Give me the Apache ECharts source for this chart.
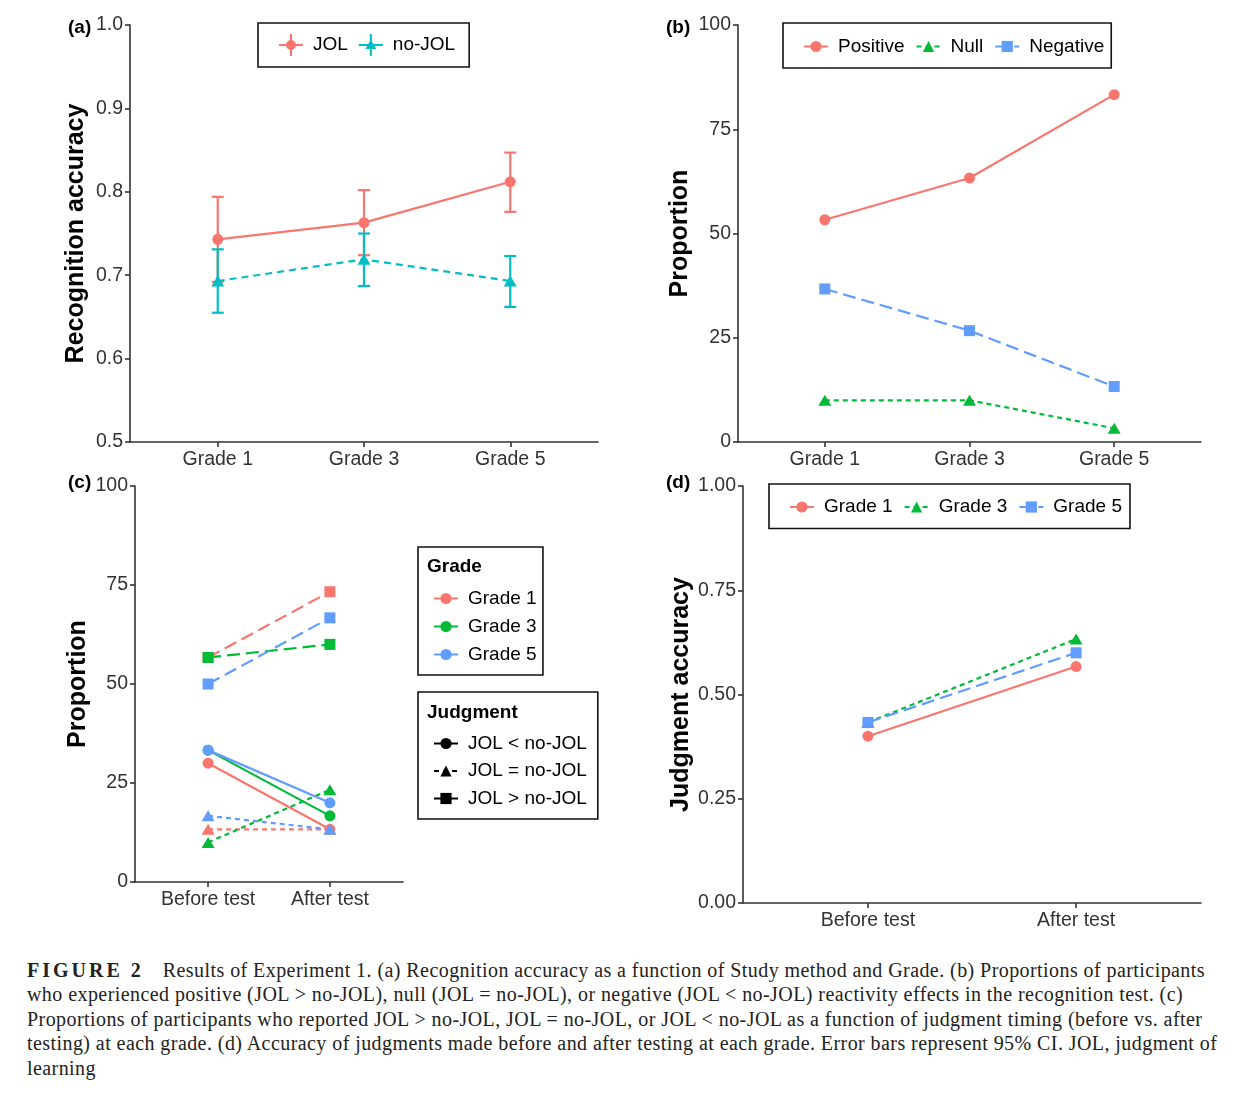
<!DOCTYPE html>
<html><head><meta charset="utf-8">
<script src="https://cdn.jsdelivr.net/npm/echarts@6/dist/echarts.min.js"></script>
<style>
html,body{margin:0;padding:0;background:#fff;}
#chart{position:absolute;left:0;top:0;width:1236px;height:945px;}
#caption{position:absolute;left:27px;top:958px;font-family:'Liberation Serif','Times New Roman',serif;font-size:20px;letter-spacing:0.43px;color:#222;}
#caption div{white-space:nowrap;height:24.4px;line-height:24.4px;}
#caption b{letter-spacing:3px;margin-right:19px;}
</style></head>
<body>
<div id="chart"></div>
<div id="caption">
<div><b>FIGURE 2</b>Results of Experiment 1. (a) Recognition accuracy as a function of Study method and Grade. (b) Proportions of participants</div>
<div>who experienced positive (JOL &gt; no-JOL), null (JOL = no-JOL), or negative (JOL &lt; no-JOL) reactivity effects in the recognition test. (c)</div>
<div>Proportions of participants who reported JOL &gt; no-JOL, JOL = no-JOL, or JOL &lt; no-JOL as a function of judgment timing (before vs. after</div>
<div>testing) at each grade. (d) Accuracy of judgments made before and after testing at each grade. Error bars represent 95% CI. JOL, judgment of</div>
<div>learning</div>
</div>
<script>
// ---------- data ----------
const gradeCats = ['Grade 1', 'Grade 3', 'Grade 5'];
const timeCats = ['Before test', 'After test'];

// (a) recognition accuracy
const jolMean = [0.743, 0.763, 0.812];
const jolLow = [0.692, 0.724, 0.776];
const jolHigh = [0.794, 0.802, 0.847];
const nojolMean = [0.693, 0.719, 0.693];
const nojolLow = [0.655, 0.687, 0.662];
const nojolHigh = [0.731, 0.750, 0.723];

// (b) reactivity proportions
const positive = [53.3, 63.3, 83.3];
const nullEff = [10.0, 10.0, 3.3];
const negative = [36.7, 26.7, 13.3];

// (c) proportions by timing [before, after]
const g1Less = [30.0, 13.3], g1Equal = [13.3, 13.3], g1Greater = [56.7, 73.3];
const g3Less = [33.3, 16.7], g3Equal = [10.0, 23.3], g3Greater = [56.7, 60.0];
const g5Less = [33.3, 20.0], g5Equal = [16.7, 13.3], g5Greater = [50.0, 66.7];

// (d) judgment accuracy [before, after]
const dG1 = [0.400, 0.567];
const dG3 = [0.433, 0.633];
const dG5 = [0.433, 0.600];

// ---------- styling ----------
const FONT = "'Liberation Sans', Arial, sans-serif";
const AX = '#333333';
const TXT = '#333333';
const RED = '#F8766D', CYAN = '#00BFC4', GREEN = '#00BA38', BLUE = '#619CFF';
const SOLID = 'solid', SHORT = [5, 4], DASH = [7, 5], LONG = [13, 6];

function xAxisCat(gridIndex, cats) {
  const vals = cats.map((c, i) => i + 1);
  return {
    type: 'value', gridIndex, min: 0.4, max: cats.length + 0.6,
    axisLine: { show: true, onZero: false, lineStyle: { color: AX, width: 1.6 } },
    axisTick: { show: true, length: 5, customValues: vals, lineStyle: { color: AX, width: 1.6 } },
    axisLabel: { customValues: vals, margin: 8, fontSize: 19.5, color: TXT, fontFamily: FONT,
      formatter: v => (Math.abs(v - Math.round(v)) < 1e-6 ? (cats[Math.round(v) - 1] || '') : '') },
    splitLine: { show: false }
  };
}
function yAxisVal(gridIndex, min, max, interval, dec, name, nameGap) {
  return {
    type: 'value', gridIndex, min, max, interval,
    name, nameLocation: 'middle', nameRotate: 90, nameGap,
    nameTextStyle: { fontSize: 25, fontWeight: 'bold', color: '#000', fontFamily: FONT },
    axisLine: { show: true, onZero: false, lineStyle: { color: AX, width: 1.6 } },
    axisTick: { show: true, length: 5, lineStyle: { color: AX, width: 1.6 } },
    axisLabel: { margin: 7, fontSize: 19.5, color: TXT, fontFamily: FONT, formatter: v => Number(v).toFixed(dec) },
    splitLine: { show: false }
  };
}
function lineSeries(name, gi, vals, color, symbol, size, type) {
  return {
    type: 'line', name, xAxisIndex: gi, yAxisIndex: gi,
    data: vals.map((v, i) => [i + 1, v]),
    color, symbol, symbolSize: size, showSymbol: true,
    lineStyle: { color, width: 2.2, type },
    itemStyle: { color, borderWidth: 0 },
    emphasis: { disabled: true }, silent: true, animation: false
  };
}
function dummy(name, gi, color, symbol, size, type) {
  return { type: 'line', name, xAxisIndex: gi, yAxisIndex: gi, data: [], color, symbol, symbolSize: size,
    lineStyle: { color, width: 2.2, type }, itemStyle: { color }, animation: false };
}
function errSeries(gi, lows, highs, color) {
  return {
    type: 'custom', xAxisIndex: gi, yAxisIndex: gi, silent: true, animation: false, clip: false,
    data: lows.map((lo, i) => [i + 1, lo, highs[i]]),
    encode: { x: 0, y: [1, 2] },
    renderItem: function (params, api) {
      const x = api.value(0);
      const lo = api.coord([x, api.value(1)]);
      const hi = api.coord([x, api.value(2)]);
      const w = 6;
      const st = { stroke: color, lineWidth: 2.2 };
      return { type: 'group', children: [
        { type: 'line', shape: { x1: lo[0], y1: lo[1], x2: hi[0], y2: hi[1] }, style: st },
        { type: 'line', shape: { x1: hi[0] - w, y1: hi[1], x2: hi[0] + w, y2: hi[1] }, style: st },
        { type: 'line', shape: { x1: lo[0] - w, y1: lo[1], x2: lo[0] + w, y2: lo[1] }, style: st }
      ] };
    }
  };
}
const legendBase = {
  selectedMode: false, borderColor: '#111', borderWidth: 1.6,
  textStyle: { fontSize: 19, color: '#000', fontFamily: FONT, padding: [0, 0, 0, 5] },
  itemWidth: 24, itemHeight: 14
};
const iconCirc = 'path://M0,10H24V12H0Z M11,0H13V22H11Z M12,6A5,5 0 1 1 11.99,6Z';
const iconTri = 'path://M0,10H24V12H0Z M11,0H13V22H11Z M12,5.5L17.5,15L6.5,15Z';

function tag(text, left, top) {
  return { text, left, top, padding: 0, textStyle: { fontSize: 19, fontWeight: 'bold', color: '#000', fontFamily: FONT } };
}

const option = {
  backgroundColor: '#fff',
  animation: false,
  title: [
    tag('(a)', 68, 18), tag('(b)', 666, 18), tag('(c)', 68, 473), tag('(d)', 666, 473),
    { text: 'Grade', left: 427, top: 557, padding: 0, textStyle: { fontSize: 19, fontWeight: 'bold', color: '#000', fontFamily: FONT } },
    { text: 'Judgment', left: 427, top: 703, padding: 0, textStyle: { fontSize: 19, fontWeight: 'bold', color: '#000', fontFamily: FONT } }
  ],
  grid: [
    { left: 130, top: 25, width: 468, height: 417, outerBoundsMode: 'none' },
    { left: 738, top: 25, width: 463, height: 417, outerBoundsMode: 'none' },
    { left: 135, top: 486, width: 268, height: 396, outerBoundsMode: 'none' },
    { left: 743, top: 486, width: 458, height: 417, outerBoundsMode: 'none' }
  ],
  xAxis: [xAxisCat(0, gradeCats), xAxisCat(1, gradeCats), xAxisCat(2, timeCats), xAxisCat(3, timeCats)],
  yAxis: [
    yAxisVal(0, 0.5, 1.0, 0.1, 1, 'Recognition accuracy', 41),
    yAxisVal(1, 0, 100, 25, 0, 'Proportion', 45),
    yAxisVal(2, 0, 100, 25, 0, 'Proportion', 44),
    yAxisVal(3, 0, 1, 0.25, 2, 'Judgment accuracy', 49)
  ],
  legend: [
    Object.assign({}, legendBase, { left: 258, top: 23, orient: 'horizontal', padding: [11, 14, 11, 21], itemGap: 11,
      itemWidth: 24, itemHeight: 22,
      data: [{ name: 'JOL', icon: iconCirc }, { name: 'no-JOL', icon: iconTri }] }),
    Object.assign({}, legendBase, { left: 783, top: 23, orient: 'horizontal', padding: [14, 7, 12, 20], itemGap: 11,
      data: ['Positive', 'Null', 'Negative'] }),
    Object.assign({}, legendBase, { left: 418, top: 547, orient: 'vertical', padding: [42, 1, 11, 15], itemGap: 9,
      data: ['Grade 1 ', 'Grade 3 ', 'Grade 5 '] }),
    Object.assign({}, legendBase, { left: 418, top: 692, orient: 'vertical', padding: [42, 11, 11, 15], itemGap: 8.5,
      data: ['JOL < no-JOL', 'JOL = no-JOL', 'JOL > no-JOL'] }),
    Object.assign({}, legendBase, { left: 769, top: 484, orient: 'horizontal', padding: [13.5, 8, 12, 20], itemGap: 11,
      data: ['Grade 1', 'Grade 3', 'Grade 5'] })
  ],
  series: [
    // (a)
    errSeries(0, jolLow, jolHigh, RED),
    errSeries(0, nojolLow, nojolHigh, CYAN),
    lineSeries('JOL', 0, jolMean, RED, 'circle', 11, SOLID),
    lineSeries('no-JOL', 0, nojolMean, CYAN, 'triangle', [13, 11], DASH),
    // (b)
    lineSeries('Positive', 1, positive, RED, 'circle', 11, SOLID),
    lineSeries('Null', 1, nullEff, GREEN, 'triangle', [13, 11], SHORT),
    lineSeries('Negative', 1, negative, BLUE, 'rect', 11, LONG),
    // (c)
    lineSeries('c G1 less', 2, g1Less, RED, 'circle', 11, SOLID),
    lineSeries('c G1 equal', 2, g1Equal, RED, 'triangle', [13, 11], SHORT),
    lineSeries('c G1 greater', 2, g1Greater, RED, 'rect', 11, LONG),
    lineSeries('c G3 less', 2, g3Less, GREEN, 'circle', 11, SOLID),
    lineSeries('c G3 equal', 2, g3Equal, GREEN, 'triangle', [13, 11], SHORT),
    lineSeries('c G3 greater', 2, g3Greater, GREEN, 'rect', 11, LONG),
    lineSeries('c G5 less', 2, g5Less, BLUE, 'circle', 11, SOLID),
    lineSeries('c G5 equal', 2, g5Equal, BLUE, 'triangle', [13, 11], SHORT),
    lineSeries('c G5 greater', 2, g5Greater, BLUE, 'rect', 11, LONG),
    dummy('Grade 1 ', 2, RED, 'circle', 11, SOLID),
    dummy('Grade 3 ', 2, GREEN, 'circle', 11, SOLID),
    dummy('Grade 5 ', 2, BLUE, 'circle', 11, SOLID),
    dummy('JOL < no-JOL', 2, '#000', 'circle', 11, SOLID),
    dummy('JOL = no-JOL', 2, '#000', 'triangle', [13, 11], SHORT),
    dummy('JOL > no-JOL', 2, '#000', 'rect', 11, SOLID),
    // (d)
    lineSeries('Grade 1', 3, dG1, RED, 'circle', 11, SOLID),
    lineSeries('Grade 3', 3, dG3, GREEN, 'triangle', [13, 11], SHORT),
    lineSeries('Grade 5', 3, dG5, BLUE, 'rect', 11, LONG)
  ]
};
const chart = echarts.init(document.getElementById('chart'), null, { renderer: 'canvas' });
chart.setOption(option);
</script>
</body></html>
